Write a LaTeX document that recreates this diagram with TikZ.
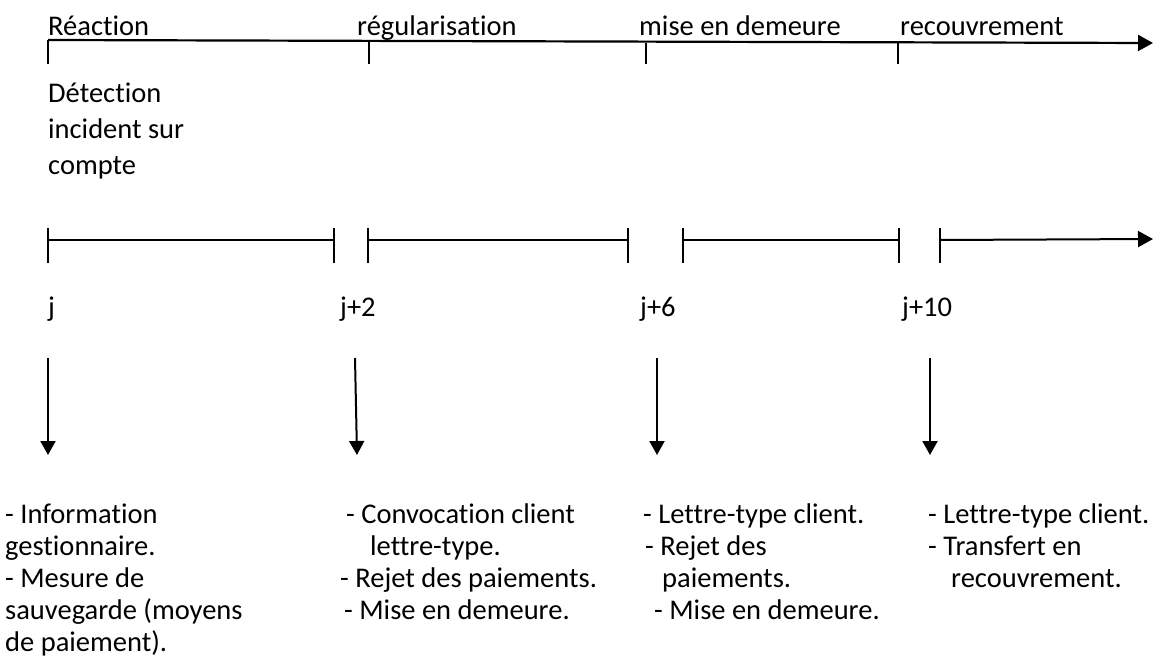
\documentclass[tikz,border=0pt]{standalone}
\usepackage{fontspec}
\setmainfont{Carlito}[Ligatures={NoCommon}]
\usetikzlibrary{arrows.meta}
\begin{document}
\begin{tikzpicture}[x=1pt,y=-1pt,
  font=\fontsize{28.5}{34}\selectfont,
  lbl/.style={anchor=base west, inner sep=0pt},
  tickline/.style={line width=1.4pt},
  axisline/.style={line width=2.2pt, -{Triangle[length=15pt,width=16pt]}},
  segline/.style={line width=1.4pt},
  segarrow/.style={line width=2pt, -{Triangle[length=15pt,width=16pt]}},
  downarrow/.style={line width=2pt, -{Triangle[length=14pt,width=15pt]}}]
\useasboundingbox (0,0) rectangle (1159,666);

% top axis
\coordinate (a0) at (48,40);
\coordinate (a1) at (1153,43);
\draw[axisline] (a0) -- (a1);
\foreach \n/\x/\yt in {t1/48/40, t2/369/42, t3/646/43, t4/898/43}{
  \coordinate (\n a) at (\x,\yt);
  \coordinate (\n b) at (\x,64);
  \draw[tickline] (\n a) -- (\n b);
}
\node[lbl] (ph1) at (48,36) {Réaction};
\node[lbl] (ph2) at (357,36) {régularisation};
\node[lbl] (ph3) at (639,36) {mise en demeure};
\node[lbl] (ph4) at (900,36) {recouvrement};

\node[lbl] (det1) at (48,103) {Détection};
\node[lbl] (det2) at (48,139) {incident sur};
\node[lbl] (det3) at (48,175) {compte};

% interval row
\foreach \n/\x in {i1/48, i2/334, i3/368, i4/628, i5/683, i6/899, i7/940}{
  \coordinate (\n a) at (\x,228);
  \coordinate (\n b) at (\x,263);
  \coordinate (\n m) at (\x,240);
  \draw[tickline] (\n a) -- (\n b);
}
\coordinate (iend) at (1153,239);
\draw[segline] (i1m) -- (i2m);
\draw[segline] (i3m) -- (i4m);
\draw[segline] (i5m) -- (i6m);
\draw[segarrow] (i7m) -- (iend);

\node[lbl] (d0) at (48,316) {j};
\node[lbl] (d2) at (340,316) {j+2};
\node[lbl] (d6) at (640,316) {j+6};
\node[lbl] (d10) at (902,316) {j+10};

% down arrows
\coordinate (s1) at (48,358);   \coordinate (e1) at (48,455);
\coordinate (s2) at (355,358);  \coordinate (e2) at (357,455);
\coordinate (s3) at (657,358);  \coordinate (e3) at (657,455);
\coordinate (s4) at (930,358);  \coordinate (e4) at (930,455);
\draw[downarrow] (s1) -- (e1);
\draw[downarrow] (s2) -- (e2);
\draw[downarrow] (s3) -- (e3);
\draw[downarrow] (s4) -- (e4);

% bottom texts
\node[lbl] (c1l1) at (5,523) {- Information};
\node[lbl] (c1l2) at (5,555) {gestionnaire.};
\node[lbl] (c1l3) at (5,587) {- Mesure de};
\node[lbl] (c1l4) at (5,619) {sauvegarde (moyens};
\node[lbl] (c1l5) at (5,651) {de paiement).};

\node[lbl] (c2l1) at (346,523) {- Convocation client};
\node[lbl] (c2l2) at (370,555) {lettre-type.};
\node[lbl] (c2l3) at (340,587) {- Rejet des paiements.};
\node[lbl] (c2l4) at (344,619) {- Mise en demeure.};

\node[lbl] (c3l1) at (643,523) {- Lettre-type client.};
\node[lbl] (c3l2) at (645,555) {- Rejet des};
\node[lbl] (c3l3) at (662,587) {paiements.};
\node[lbl] (c3l4) at (654,619) {- Mise en demeure.};

\node[lbl] (c4l1) at (928,523) {- Lettre-type client.};
\node[lbl] (c4l2) at (928,555) {- Transfert en};
\node[lbl] (c4l3) at (951,587) {recouvrement.};
\end{tikzpicture}
\end{document}
